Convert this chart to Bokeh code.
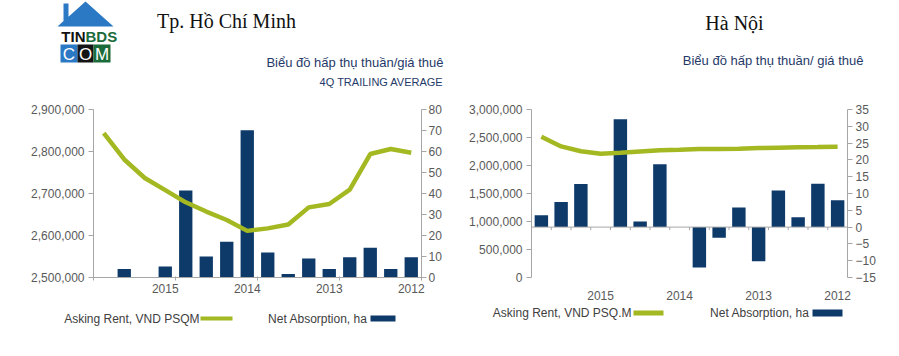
from bokeh.plotting import figure
from bokeh.models import Range1d, LinearAxis, FixedTicker, NumeralTickFormatter, Span
from bokeh.layouts import row, column
from bokeh.embed import file_html
from bokeh.resources import INLINE
from bokeh.core.properties import value

# ---------------- data (index 0 = 2012 Q1 ... 15 = 2015 Q4, drawn right-to-left) ----------------
quarters = list(range(16))
year_ticks = [0, 4, 8, 12]
year_labels = ["2012", "2013", "2014", "2015"]
group_edges = [-0.5, 3.5, 7.5, 11.5, 15.5]
slot_edges = [i - 0.5 for i in range(17)]

hcm_absorption = [9.7, 4.0, 14.2, 9.7, 4.0, 9.1, 1.7, 11.9,
                  70.1, 17.0, 10.0, 41.4, 5.2, 0.0, 4.0, 0.0]
hcm_rent = [2797000, 2806000, 2794000, 2709000, 2675000, 2667000, 2626000, 2617000,
            2611000, 2637000, 2657000, 2679000, 2708000, 2737000, 2781000, 2844000]
hcm_rent_ticks = [2500000, 2600000, 2700000, 2800000, 2900000]
hcm_abs_ticks = [0, 10, 20, 30, 40, 50, 60, 70, 80]

hn_absorption = [8.0, 12.9, 2.9, 10.9, -10.2, 5.8, -3.2, -12.0,
                 0.0, 18.7, 1.7, 32.1, 0.0, 12.8, 7.5, 3.5]
hn_rent = [2335000, 2329000, 2324000, 2318000, 2312000, 2301000, 2295000, 2295000,
           2283000, 2272000, 2249000, 2226000, 2209000, 2255000, 2341000, 2513000]
hn_rent_ticks = [0, 500000, 1000000, 1500000, 2000000, 2500000, 3000000]
hn_abs_ticks = [-15, -10, -5, 0, 5, 10, 15, 20, 25, 30, 35]

titles = ["Tp. Hồ Chí Minh", "Hà Nội"]
subtitles = ["Biểu đồ hấp thụ thuần/giá thuê", "Biểu đồ hấp thụ thuần/ giá thuê"]
subtitle2 = "4Q TRAILING AVERAGE"
legend_bar = "Net Absorption, ha"
legend_line = ["Asking Rent, VND PSQM", "Asking Rent, VND PSQ.M"]

NAVY = "#0e3a6a"
GREEN = "#a4b822"
AXIS = "#a6a6a6"
TICKTXT = "#595959"
SUBTXT = "#1f3a68"
LEGTXT = "#404040"
LOGO_BLUE = "#2b78c4"
LOGO_GREEN = "#1b6b3a"
FONT = "Liberation Sans"
SERIF = "Liberation Serif"


def style_axis(ax):
    ax.axis_line_color = AXIS
    ax.major_tick_line_color = AXIS
    ax.minor_tick_line_color = None
    ax.major_tick_in = 0
    ax.major_tick_out = 5
    ax.major_label_text_color = TICKTXT
    ax.major_label_text_font = FONT
    ax.major_label_text_font_size = "12px"
    ax.major_label_standoff = 4


def blank_fig(w, h):
    f = figure(width=w, height=h, output_backend="svg", toolbar_location=None,
               x_range=Range1d(0, w), y_range=Range1d(h, 0),
               x_axis_location=None, y_axis_location=None,
               min_border=0, min_border_left=0, min_border_right=0,
               min_border_top=0, min_border_bottom=0)
    f.outline_line_color = None
    f.xgrid.visible = False
    f.ygrid.visible = False
    return f


# ======================= header (titles, subtitles, logo) =======================
HEAD_H = 96
head = blank_fig(899, HEAD_H)
head.text(x=[226, 734], y=[20, 22], text=titles, text_font=value(SERIF),
          text_font_size="20px", text_color="#111111", text_align="center",
          text_baseline="middle")
head.text(x=[443, 863], y=[62, 60], text=subtitles, text_font=value(FONT),
          text_font_size="13px", text_color=SUBTXT, text_align="right",
          text_baseline="middle")
head.text(x=[443], y=[81], text=[subtitle2], text_font=value(FONT),
          text_font_size="11px", text_color=SUBTXT, text_align="right",
          text_baseline="middle")
# logo
head.patch(x=[57, 63, 63, 68, 68, 85, 113], y=[26, 20.6, 3, 3, 16.2, 1, 26],
           fill_color=LOGO_BLUE, line_color=None)
head.text(x=[85], y=[35.5], text=["TIN"], text_font=value(FONT), text_font_size="15px",
          text_font_style="bold", text_color="#111111", text_align="right",
          text_baseline="middle")
head.text(x=[85], y=[35.5], text=["BDS"], text_font=value(FONT), text_font_size="15px",
          text_font_style="bold", text_color=LOGO_GREEN, text_align="left",
          text_baseline="middle")
head.quad(left=[60, 77, 93], right=[77, 93, 110], top=[44, 44, 44], bottom=[62, 62, 62],
          fill_color=[LOGO_BLUE, "#151515", LOGO_GREEN], line_color=None)
head.text(x=[68.5, 85, 101.5], y=[53.5, 53.5, 53.5], text=["C", "O", "M"],
          text_font=value(FONT), text_font_size="17px", text_color="#ffffff",
          text_align="center", text_baseline="middle")

# ======================= Ho Chi Minh City chart =======================
ROW_H = 211
p1 = figure(width=450, height=ROW_H, output_backend="svg", toolbar_location=None,
            x_range=Range1d(15.5, -0.5), y_range=Range1d(0, 80),
            y_axis_location="right",
            min_border_left=93, min_border_right=29, min_border_top=13, min_border_bottom=30)
p1.outline_line_color = None
p1.xgrid.visible = False
p1.ygrid.visible = False
p1.extra_y_ranges = {"rent": Range1d(2500000, 2900000)}

p1.vbar(x=quarters, top=hcm_absorption, width=0.65, fill_color=NAVY, line_color=None)
p1.line(x=quarters, y=hcm_rent, y_range_name="rent", line_width=4.5, line_color=GREEN)

ra = p1.yaxis[0]
style_axis(ra)
ra.ticker = FixedTicker(ticks=hcm_abs_ticks)
ra.major_label_standoff = 2

la = LinearAxis(y_range_name="rent", ticker=FixedTicker(ticks=hcm_rent_ticks),
                formatter=NumeralTickFormatter(format="0,0"))
style_axis(la)
p1.add_layout(la, "left")

xa = p1.xaxis[0]
style_axis(xa)
xa.ticker = FixedTicker(ticks=year_ticks, minor_ticks=group_edges)
xa.major_label_overrides = dict(zip(year_ticks, year_labels))
xa.major_tick_line_color = None
xa.major_tick_out = 0
xa.minor_tick_line_color = AXIS
xa.minor_tick_out = 3
xa.minor_tick_in = 1
xa.major_label_standoff = 3

# ======================= Ha Noi chart =======================
p2 = figure(width=449, height=ROW_H, output_backend="svg", toolbar_location=None,
            x_range=Range1d(15.5, -0.5), y_range=Range1d(-15, 35),
            y_axis_location="right",
            min_border_left=81, min_border_right=52, min_border_top=9, min_border_bottom=28)
p2.outline_line_color = None
p2.xgrid.visible = False
p2.ygrid.visible = False
p2.extra_y_ranges = {"rent": Range1d(0, 3000000)}

p2.vbar(x=quarters, top=hn_absorption, width=0.68, fill_color=NAVY, line_color=None)
p2.add_layout(Span(location=0, dimension="width", line_color=AXIS, line_width=1))
p2.segment(x0=slot_edges, x1=slot_edges, y0=[0] * len(slot_edges),
           y1=[-0.9] * len(slot_edges), line_color=AXIS, line_width=1)
p2.line(x=quarters, y=hn_rent, y_range_name="rent", line_width=4.5, line_color=GREEN)

rb = p2.yaxis[0]
style_axis(rb)
rb.ticker = FixedTicker(ticks=hn_abs_ticks)
rb.major_label_standoff = 3

lb = LinearAxis(y_range_name="rent", ticker=FixedTicker(ticks=hn_rent_ticks),
                formatter=NumeralTickFormatter(format="0,0"))
style_axis(lb)
p2.add_layout(lb, "left")

xb = p2.xaxis[0]
style_axis(xb)
xb.ticker = FixedTicker(ticks=year_ticks)
xb.major_label_overrides = dict(zip(year_ticks, year_labels))
xb.axis_line_color = None
xb.major_tick_line_color = None
xb.major_tick_out = 0
xb.major_label_standoff = 13

# ======================= footer (legends) =======================
FOOT_TOP = HEAD_H + ROW_H
foot = blank_fig(899, 46)
foot.quad(left=[370, 812], right=[395, 842],
          top=[315 - FOOT_TOP, 309 - FOOT_TOP], bottom=[321 - FOOT_TOP, 316 - FOOT_TOP],
          fill_color=NAVY, line_color=None)
foot.quad(left=[200, 633], right=[232, 663],
          top=[316 - FOOT_TOP, 310 - FOOT_TOP], bottom=[320 - FOOT_TOP, 315 - FOOT_TOP],
          fill_color=GREEN, line_color=None)
foot.text(x=[367, 809], y=[318 - FOOT_TOP, 312.5 - FOOT_TOP], text=[legend_bar, legend_bar],
          text_font=value(FONT), text_font_size="12px", text_color=LEGTXT,
          text_align="right", text_baseline="middle")
foot.text(x=[199, 631], y=[318 - FOOT_TOP, 312.5 - FOOT_TOP], text=legend_line,
          text_font=value(FONT), text_font_size="12px", text_color=LEGTXT,
          text_align="right", text_baseline="middle")

layout = column(head, row(p1, p2), foot)
open("out.html", "w").write(file_html(layout, INLINE))
